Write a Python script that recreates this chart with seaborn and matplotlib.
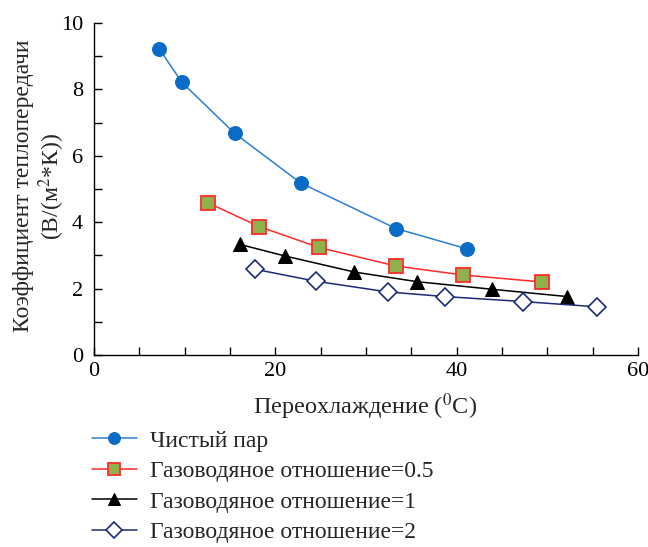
import numpy as np
import pandas as pd
import matplotlib
matplotlib.use("Agg")
import matplotlib.pyplot as plt
import seaborn as sns
from matplotlib.ticker import MultipleLocator

# values
pure_x = [7.2, 9.7, 15.5, 22.8, 33.3, 41.1]
pure_y = [9.22, 8.21, 6.68, 5.18, 3.81, 3.2]
r05_x = [12.6, 18.2, 24.8, 33.3, 40.7, 49.4]
r05_y = [4.58, 3.87, 3.24, 2.68, 2.41, 2.2]
r1_x = [16.1, 21.1, 28.7, 35.6, 43.9, 52.2]
r1_y = [3.33, 2.98, 2.5, 2.21, 1.98, 1.76]
r2_x = [17.8, 24.5, 32.4, 38.7, 47.3, 55.5]
r2_y = [2.58, 2.22, 1.9, 1.76, 1.61, 1.45]

labels = ["Чистый пар", "Газоводяное отношение=0.5",
          "Газоводяное отношение=1", "Газоводяное отношение=2"]

sns.set_style("ticks")
plt.rcParams['font.family'] = ['Liberation Serif', 'DejaVu Serif']
plt.rcParams['mathtext.fontset'] = 'stix'

fig = plt.figure(figsize=(6.48, 5.47), dpi=100)
ax = fig.add_axes([94 / 648, 1 - 355 / 547, (638 - 94) / 648, (355 - 23) / 547])

series = [
    (pure_x, pure_y, dict(color="#2b7fd4", marker="o", markersize=10,
                          markerfacecolor="#0a6cc6", markeredgecolor="#0a6cc6")),
    (r05_x, r05_y, dict(color="#ff2a2a", marker="s", markersize=9.5,
                        markerfacecolor="#8fb04c", markeredgecolor="#ff2a2a",
                        markeredgewidth=1.3)),
    (r1_x, r1_y, dict(color="black", marker="^", markersize=9.5,
                      markerfacecolor="black", markeredgecolor="black")),
    (r2_x, r2_y, dict(color="#1c2a78", marker="D", markersize=9,
                      markerfacecolor="white", markeredgecolor="#1c2a78",
                      markeredgewidth=1.2)),
]

for (x, y, kw), lab in zip(series, labels):
    df = pd.DataFrame({"x": x, "y": y})
    sns.lineplot(data=df, x="x", y="y", ax=ax, linewidth=1.1, label=lab, **kw)

ax.set_xlim(0, 60)
ax.set_ylim(0, 10)
ax.xaxis.set_major_locator(MultipleLocator(20))
ax.xaxis.set_minor_locator(MultipleLocator(5))
ax.yaxis.set_major_locator(MultipleLocator(2))
ax.yaxis.set_minor_locator(MultipleLocator(1))
ax.tick_params(which="both", direction="in", labelsize=16, width=1, colors="black",
               length=6)
ax.tick_params(axis="y", pad=8)
ax.tick_params(axis="x", pad=5)
sns.despine(ax=ax)
for s in ["left", "bottom"]:
    ax.spines[s].set_linewidth(1)
    ax.spines[s].set_color("black")

ax.set_xlabel("")
ax.set_ylabel("")
fig.text(365 / 648, 1 - 407 / 547, "Переохлаждение ($^0$C)", ha="center", va="center",
         fontsize=17.5)
fig.text(40 / 648, 1 - 186 / 547, "Коэффициент теплопередачи\n(В/(м$^2$*К))",
         rotation=90, ha="center", va="center", fontsize=17, linespacing=1.1)

handles, labs = ax.get_legend_handles_labels()
ax.get_legend().remove()
fig.legend(handles, labs, loc="upper left", bbox_to_anchor=(92 / 648, 1 - 430 / 547),
           frameon=False, fontsize=17, handlelength=1.9, handletextpad=0.55,
           labelspacing=0.38, borderaxespad=0, borderpad=0, markerscale=0.85)

fig.savefig("out.png", dpi=100, facecolor="white")
